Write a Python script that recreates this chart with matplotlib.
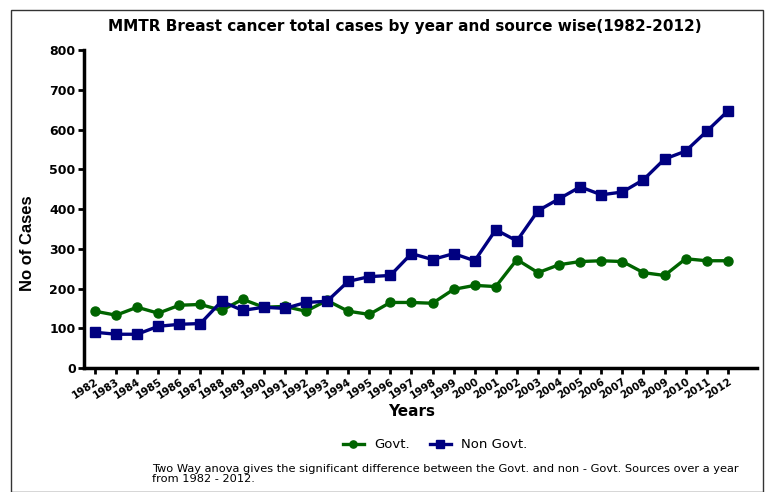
import numpy as np
import matplotlib
matplotlib.use('Agg')
import matplotlib.pyplot as plt
from matplotlib.patches import Rectangle

plt.rcParams['font.family'] = ['DejaVu Sans']

years = list(range(1982, 2013))
govt = [143, 133, 153, 138, 158, 160, 145, 173, 153, 155, 143, 170, 143, 135, 165, 165,
        163, 198, 208, 205, 273, 240, 260, 268, 270, 268, 240, 233, 275, 270, 270]
non_govt = [90, 85, 85, 105, 110, 112, 168, 145, 153, 150, 165, 168, 218, 230, 233, 288,
            273, 288, 270, 348, 320, 396, 426, 456, 436, 443, 474, 526, 546, 596, 647]

fig = plt.figure(figsize=(7.67, 4.92), dpi=100)
ax = fig.add_axes([0.1095, 0.252, 0.878, 0.646])

# border box around the figure
fig.patches.append(Rectangle((11/767, 0.0), 752/767, 1 - 10/492, transform=fig.transFigure,
                             fill=False, edgecolor='#333333', linewidth=1.0))

ax.plot(years, govt, color='#006400', marker='o', markersize=6.5, linewidth=2.4, label='Govt.')
ax.plot(years, non_govt, color='#000080', marker='s', markersize=6.5, linewidth=2.4, label='Non Govt.')

ax.set_ylim(0, 800)
ax.set_xlim(1981.48, 2013.4)
ax.set_yticks(range(0, 801, 100))
ax.set_xticks(years)
ax.set_xticklabels([str(y) for y in years], rotation=33, ha='right', rotation_mode='anchor',
                   fontsize=7.5, fontweight='bold')
for lab in ax.get_yticklabels():
    lab.set_fontweight('bold')
    lab.set_fontsize(9)

for s in ['top', 'right']:
    ax.spines[s].set_visible(False)
for s in ['left', 'bottom']:
    ax.spines[s].set_linewidth(2.5)
ax.tick_params(width=2, length=4, direction='out', pad=2)

fig.text(405/767, 1 - 27/492, 'MMTR Breast cancer total cases by year and source wise(1982-2012)',
         fontsize=11, fontweight='bold', ha='center', va='center')
ax.set_xlabel('Years', fontsize=11, fontweight='bold')
ax.xaxis.set_label_coords(0.487, -0.112)
ax.set_ylabel('No of Cases', fontsize=12, fontweight='bold', family='Liberation Sans')
ax.yaxis.set_label_coords(-0.073, 0.393)

ax.legend(loc='center', bbox_to_anchor=(435/767, 1 - 445/492), bbox_transform=fig.transFigure,
          ncol=2, frameon=False, fontsize=9.5, handlelength=1.6, columnspacing=1.5,
          markerscale=0.8)

fig.text(152/767, 1 - 474/492,
         'Two Way anova gives the significant difference between the Govt. and non - Govt. Sources over a year\nfrom 1982 - 2012.',
         fontsize=8.2, va='center', ha='left', linespacing=1.05)

plt.savefig('out.png', dpi=100)
